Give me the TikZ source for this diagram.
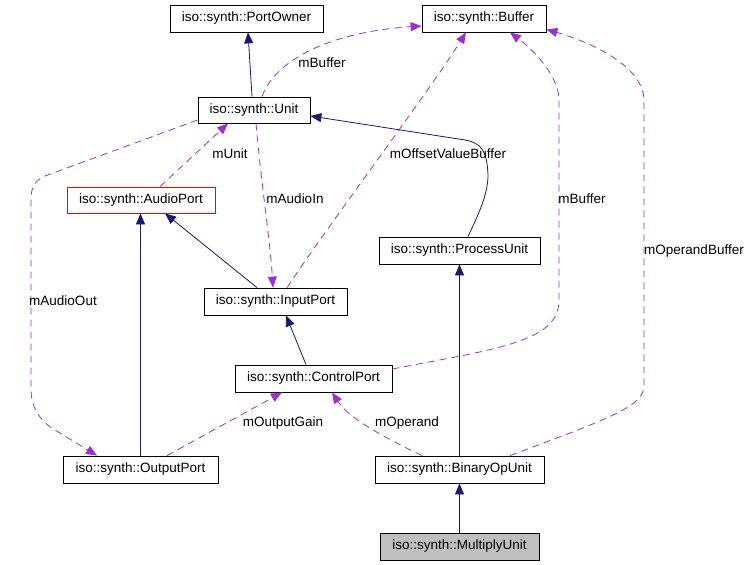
\documentclass[tikz,border=0pt]{standalone}
\usepackage{fontspec}
\setmainfont{Liberation Sans}
\usetikzlibrary{arrows.meta,calc}
\definecolor{inhcol}{HTML}{191970}
\definecolor{usecol}{HTML}{9A32CD}
\definecolor{graycol}{HTML}{BFBFBF}
\tikzset{
  cls/.style={draw=black, line width=0.8bp, inner sep=0pt, fill=white, anchor=center, minimum height=27bp},
  inherit/.style={draw=inhcol, line width=0.8bp, -{Triangle[length=11bp,width=9bp]}, fill=none},
  usage/.style={draw=usecol, line width=0.8bp, dash pattern=on 7bp off 5bp, -{Triangle[length=11bp,width=9bp,fill=usecol]}, fill=none},
  lbl/.style={inner sep=0pt, anchor=center, text=black}
}
\begin{document}
\begin{tikzpicture}[x=1bp, y=-1bp, font=\fontsize{13.5bp}{16bp}\selectfont]
\useasboundingbox (0,0) rectangle (751,565);
\fill[white] (0,0) rectangle (751,565);

% classes
\node[cls, minimum width=153bp] (portowner) at (246.5,18.5) {iso::synth::PortOwner};
\node[cls, minimum width=124bp] (buffer) at (484,18.5) {iso::synth::Buffer};
\node[cls, minimum width=112bp, minimum height=26bp] (unit) at (254,110) {iso::synth::Unit};
\node[cls, draw=red, minimum width=148bp, minimum height=26bp] (audioport) at (141,200) {iso::synth::AudioPort};
\node[cls, minimum width=143bp] (inputport) at (275.5,301.5) {iso::synth::InputPort};
\node[cls, minimum width=161bp] (processunit) at (459.5,250.5) {iso::synth::ProcessUnit};
\node[cls, minimum width=157bp] (controlport) at (313.5,378.5) {iso::synth::ControlPort};
\node[cls, minimum width=155bp] (outputport) at (140.5,469.5) {iso::synth::OutputPort};
\node[cls, minimum width=169bp] (binaryop) at (459.5,469.5) {iso::synth::BinaryOpUnit};
\node[cls, fill=graycol, minimum width=159bp] (multiply) at (459.5,546.5) {iso::synth::MultiplyUnit};

% inheritance
\draw[inherit] ([xshift=-2bp]unit.north) -- ([xshift=1.5bp]portowner.south);
\draw[inherit] ([xshift=8.5bp]processunit.north) .. controls (478,215) and (488,195) .. (488,175)
   .. controls (487,150) and (481,143) .. (465,140) -- ([yshift=-6bp]unit.east);
\draw[inherit] ([xshift=-18.5bp]inputport.north) -- ([xshift=24bp]audioport.south);
\draw[inherit] (outputport.north) -- (outputport.north |- audioport.south);
\draw[inherit] ([xshift=-7.5bp]controlport.north) -- ([xshift=10.5bp]inputport.south);
\draw[inherit] (binaryop.north) -- (processunit.south);
\draw[inherit] (multiply.north) -- (binaryop.south);

% usage
\draw[usage] ([xshift=19bp]audioport.north) -- ([xshift=-26bp]unit.south);
\draw[usage] ([xshift=2bp]unit.south) .. controls (262,190) and (270,240) .. ([xshift=-2.5bp]inputport.north);
\draw[usage] ([xshift=11.5bp]inputport.north) .. controls (325,230) and (430,90) .. ([xshift=-18bp]buffer.south);
\draw[usage] ([xshift=8bp]unit.north) .. controls (275,60) and (330,32) .. ([yshift=-7.5bp]buffer.west);
\draw[usage] ([yshift=-10bp]unit.west) -- (45,176) .. controls (34,181) and (31,188) .. (31,200)
   -- (31,390) .. controls (31,405) and (38,420) .. (55,430) -- ([xshift=-43.5bp]outputport.north);
\draw[usage] ([xshift=26.5bp]outputport.north) -- ([xshift=-31.5bp]controlport.south);
\draw[usage] ([xshift=-37.5bp]binaryop.north) .. controls (390,440) and (350,420) .. ([xshift=18.5bp]controlport.south);
\draw[usage] ([yshift=9.5bp]controlport.east) -- (450,358) .. controls (530,343) and (559,330) .. (559,300)
   -- (559,100) .. controls (559,80) and (540,55) .. ([xshift=26bp]buffer.south);
\draw[usage] ([xshift=50.5bp]binaryop.north) -- (570,433) .. controls (630,410) and (644,400) .. (644,385)
   -- (644,100) .. controls (644,70) and (600,45) .. ([yshift=3bp]buffer.south east);

% labels
\node[lbl] (l1) at (322,63) {mBuffer};
\node[lbl] (l2) at (230,154) {mUnit};
\node[lbl] (l3) at (295,199) {mAudioIn};
\node[lbl] (l4) at (448,154) {mOffsetValueBuffer};
\node[lbl] (l5) at (63,301) {mAudioOut};
\node[lbl] (l6) at (283,423) {mOutputGain};
\node[lbl] (l7) at (407,423) {mOperand};
\node[lbl] (l8) at (582,199) {mBuffer};
\node[lbl] (l9) at (694,251) {mOperandBuffer};
\end{tikzpicture}
\end{document}
